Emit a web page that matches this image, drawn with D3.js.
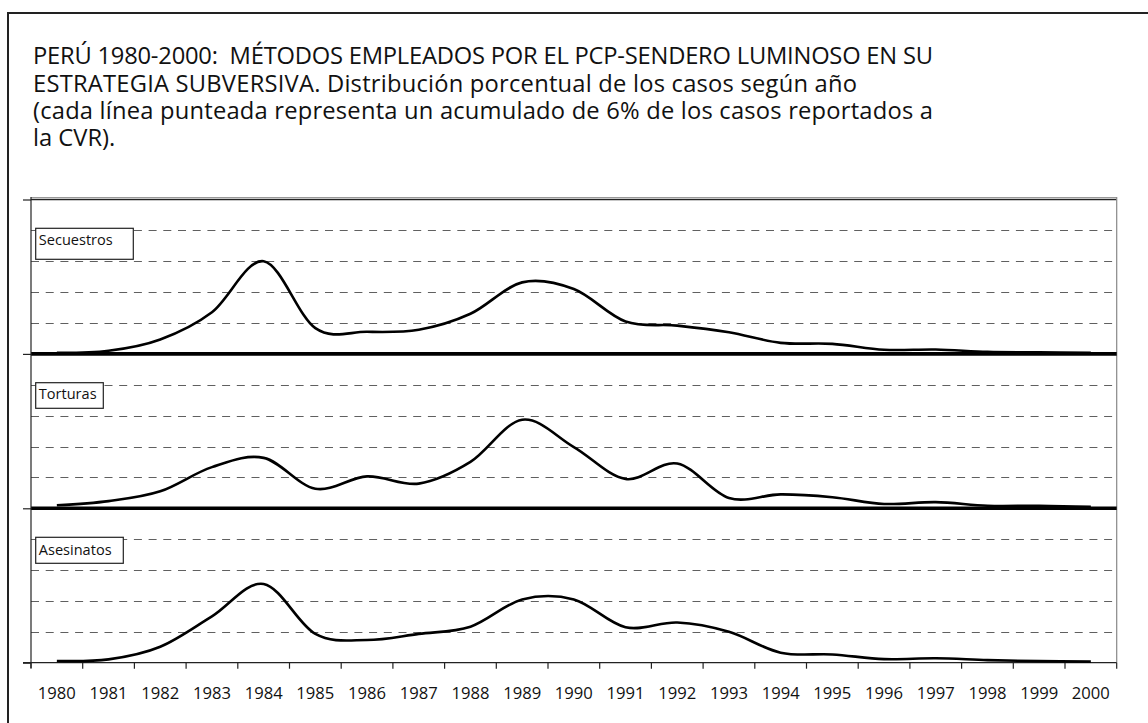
<!DOCTYPE html>
<html><head><meta charset="utf-8">
<script src="https://cdn.jsdelivr.net/npm/d3@7/dist/d3.min.js"></script>
<style>html,body{margin:0;padding:0;background:#fff;}svg{display:block;}</style>
</head><body>
<svg id="c" width="1148" height="723"></svg>
<script>
const years = ["1980","1981","1982","1983","1984","1985","1986","1987","1988","1989","1990","1991","1992","1993","1994","1995","1996","1997","1998","1999","2000"];
const seriesNames = ["Secuestros","Torturas","Asesinatos"];
const secuestros = [0.2,0.6,2.8,8.1,18.0,5.0,4.3,4.7,7.8,13.9,12.6,6.3,5.5,4.2,2.15,1.95,0.8,0.85,0.4,0.3,0.2];
const torturas   = [0.6,1.4,3.3,8.0,9.8,3.8,6.2,4.8,9.0,17.2,11.9,5.7,8.7,2.0,2.7,2.15,0.85,1.2,0.5,0.5,0.3];
const asesinatos = [0.33,0.65,3.1,9.0,15.3,5.6,4.4,5.6,7.0,12.3,12.3,6.9,7.8,6.0,1.95,1.6,0.7,0.85,0.5,0.3,0.2];
const panelOffsets = [60,30,0];
const gridStep = 6;
const panelSpan = 30;
const titleLines = [
  "PERÚ 1980-2000:  MÉTODOS EMPLEADOS POR EL PCP-SENDERO LUMINOSO EN SU",
  "ESTRATEGIA SUBVERSIVA. Distribución porcentual de los casos según año",
  "(cada línea punteada representa un acumulado de 6% de los casos reportados a",
  "la CVR)."
];

(function(){
const FONT = "'Open Sans', 'DejaVu Sans', sans-serif";
const svg = d3.select("#c");

svg.append("rect").attr("x",8).attr("y",13).attr("width",1200).attr("height",800)
  .attr("fill","#fff").attr("stroke","#222").attr("stroke-width",2);

// title: one font size, each line fitted to the width measured on the reference
const titleWidths = [900, 824, 900, null];
const tg = svg.append("g").attr("font-family",FONT).attr("fill","#111");
const tl = tg.selectAll("text").data(titleLines).join("text")
  .attr("x",33).attr("y",(d,i)=>64.3+i*27.2).attr("font-size",20)
  .attr("xml:space","preserve").style("white-space","pre").text(d=>d);
const nodes = tl.nodes();
const fsT = 20*(900/nodes[0].getComputedTextLength() + 900/nodes[2].getComputedTextLength())/2;
tl.attr("font-size", fsT);
nodes.forEach((n,i)=>{
  if (titleWidths[i] == null) return;
  const w = n.getComputedTextLength();
  const ls = (titleWidths[i]-w)/(titleLines[i].length-1);
  d3.select(n).attr("letter-spacing", ls.toFixed(3));
});

const pL = 31, pR = 1116.7, pT = 199.5, pB = 662.7;
const x = d3.scaleBand().domain(years).range([pL,pR]).padding(0);
const y = d3.scaleLinear().domain([0,90]).range([pB,pT]);

svg.append("line").attr("x1",pL).attr("x2",pR).attr("y1",197.5).attr("y2",197.5)
  .attr("stroke","#999").attr("stroke-width",1);
svg.append("line").attr("x1",pL).attr("x2",pR).attr("y1",y(90)).attr("y2",y(90))
  .attr("stroke","#222").attr("stroke-width",1.6);
svg.append("line").attr("x1",pR).attr("x2",pR).attr("y1",197).attr("y2",pB)
  .attr("stroke","#888").attr("stroke-width",1.2);

const gridVals = d3.range(gridStep, 90, gridStep).filter(v => v % panelSpan !== 0);
svg.append("g").selectAll("line").data(gridVals).join("line")
  .attr("x1",pL).attr("x2",pR)
  .attr("y1",d=>Math.round(y(d))+0.5).attr("y2",d=>Math.round(y(d))+0.5)
  .attr("stroke","#606060").attr("stroke-width",1.2).attr("stroke-dasharray","8,6.7");

svg.append("g").selectAll("line").data([30,60]).join("line")
  .attr("x1",pL).attr("x2",pR).attr("y1",d=>y(d)).attr("y2",d=>y(d))
  .attr("stroke","#000").attr("stroke-width",3.6);

const yAxis = d3.axisLeft(y).tickValues([0,30,60,90]).tickSize(8).tickFormat("");
const ya = svg.append("g").attr("transform",`translate(${pL},0)`).call(yAxis);
ya.select(".domain").remove();
ya.selectAll(".tick line").attr("stroke","#222").attr("stroke-width",1.2);
svg.append("line").attr("x1",pL).attr("x2",pL).attr("y1",197).attr("y2",668).attr("stroke","#222").attr("stroke-width",1.2);

const bx = svg.append("g").attr("transform",`translate(0,${pB})`);
bx.append("line").attr("x1",23).attr("x2",pR).attr("y1",0).attr("y2",0).attr("stroke","#222").attr("stroke-width",1.2);
const bounds = years.map(d=>x(d)).concat([pR]);
bx.selectAll("line.t").data(bounds).join("line").attr("class","t")
  .attr("x1",d=>d).attr("x2",d=>d).attr("y1",0).attr("y2",6).attr("stroke","#222").attr("stroke-width",1.2);
const yl = bx.selectAll("text").data(years).join("text")
  .attr("x",d=>x(d)+x.bandwidth()/2).attr("y",36.3).attr("text-anchor","middle")
  .attr("font-family",FONT).attr("font-size",17).attr("fill","#111").text(d=>d);
const wy = yl.nodes()[0].getComputedTextLength();
yl.attr("font-size", 17*38/wy);

const allSeries = [secuestros, torturas, asesinatos];
const line = d3.line().curve(d3.curveCardinal.tension(0));
allSeries.forEach((vals, k) => {
  const pts = vals.map((v,i)=>[x(years[i])+x.bandwidth()/2, y(v+panelOffsets[k])]);
  svg.append("path").attr("d",line(pts)).attr("fill","none")
    .attr("stroke","#000").attr("stroke-width",2.6).attr("stroke-linejoin","round");
});

const labelBoxes = [
  {y0:228.3, h:31, base:245, w:97.6},
  {y0:382.7, h:25.6, base:399, w:67.6},
  {y0:537.3, h:26, base:555, w:87.6}
];
const lg = svg.append("g");
const texts = [];
seriesNames.forEach((n,k)=>{
  const b = labelBoxes[k];
  lg.append("rect").attr("x",35.7).attr("y",b.y0).attr("height",b.h).attr("width",b.w)
    .attr("fill","#fff").attr("stroke","#222").attr("stroke-width",1.2);
  const t = lg.append("text").attr("x",38.8).attr("y",b.base).attr("font-family",FONT)
    .attr("font-size",14).attr("fill","#111").text(n);
  texts.push(t);
});
const ws = texts[0].node().getComputedTextLength();
const fs = 14*74/ws;
texts.forEach(t=>t.attr("font-size",fs));
})();
</script>
</body></html>
